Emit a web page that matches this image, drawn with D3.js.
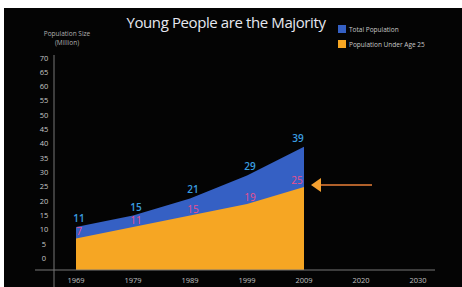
<!DOCTYPE html>
<html>
<head>
<meta charset="utf-8">
<script src="https://cdn.jsdelivr.net/npm/d3@7"></script>
<style>
  body { margin: 0; background: #fff; }
  svg { display: block; }
  text { font-family: "Open Sans", Lato, sans-serif; }
</style>
</head>
<body>
<svg width="462" height="287"></svg>
<script>
var years = ["1969", "1979", "1989", "1999", "2009", "2020", "2030"];
var dataYears = ["1969", "1979", "1989", "1999", "2009"];
var totalPop = [11, 15, 21, 29, 39];
var under25 = [7, 11, 15, 19, 25];
var yTicks = [0, 5, 10, 15, 20, 25, 30, 35, 40, 45, 50, 55, 60, 65, 70];

var svg = d3.select("svg");

// black panel, the picture has a thin white border top/left
svg.append("rect")
    .attr("x", 4).attr("y", 8)
    .attr("width", 458).attr("height", 279)
    .attr("fill", "#040404");

var x = d3.scalePoint()
    .domain(years)
    .range([76, 418]);

var y = d3.scaleLinear()
    .domain([-4, 70])
    .range([270, 58]);

var rows = dataYears.map(function(d, i) {
    return { year: d, total: totalPop[i], young: under25[i] };
});

var areaTotal = d3.area()
    .x(function(d) { return x(d.year); })
    .y0(y(-4))
    .y1(function(d) { return y(d.total); });

var areaYoung = d3.area()
    .x(function(d) { return x(d.year); })
    .y0(y(-4))
    .y1(function(d) { return y(d.young); });

svg.append("path")
    .datum(rows)
    .attr("d", areaTotal)
    .attr("fill", "#3560c4");

svg.append("path")
    .datum(rows)
    .attr("d", areaYoung)
    .attr("fill", "#f6a623");

// axes
svg.append("line")
    .attr("x1", 35).attr("x2", 435)
    .attr("y1", y(-4)).attr("y2", y(-4))
    .attr("stroke", "#777").attr("stroke-width", 1);

svg.append("line")
    .attr("x1", 54).attr("x2", 54)
    .attr("y1", 55).attr("y2", 287)
    .attr("stroke", "#777").attr("stroke-width", 1);

svg.append("g")
    .selectAll("text")
    .data(yTicks)
    .enter().append("text")
    .attr("x", 44)
    .attr("y", function(d) { return y(d) + 2.5; })
    .attr("text-anchor", "middle")
    .attr("font-size", 7.5)
    .attr("fill", "#c8c8c8")
    .text(function(d) { return d; });

svg.append("g")
    .selectAll("text")
    .data(years)
    .enter().append("text")
    .attr("x", function(d) { return x(d); })
    .attr("y", 283)
    .attr("text-anchor", "middle")
    .attr("font-size", 7.5)
    .attr("fill", "#c0c0c0")
    .text(function(d) { return d; });

// value labels
svg.append("g")
    .selectAll("text")
    .data(rows)
    .enter().append("text")
    .attr("x", function(d, i) { return x(d.year) + (i == rows.length - 1 ? -6 : 3); })
    .attr("y", function(d) { return y(d.total) - 5; })
    .attr("text-anchor", "middle")
    .attr("font-size", 10)
    .attr("font-weight", 600)
    .attr("fill", "#3a9ee0")
    .text(function(d) { return d.total; });

svg.append("g")
    .selectAll("text")
    .data(rows)
    .enter().append("text")
    .attr("x", function(d, i) { return x(d.year) + (i == rows.length - 1 ? -7 : 3); })
    .attr("y", function(d) { return y(d.young) - 3; })
    .attr("text-anchor", "middle")
    .attr("font-size", 10)
    .attr("fill", "#ec4f8e")
    .text(function(d) { return d.young; });

// arrow pointing at 2009
var arrowY = y(under25[4]) - 2;
svg.append("line")
    .attr("x1", 319).attr("x2", 372)
    .attr("y1", arrowY).attr("y2", arrowY)
    .attr("stroke", "#b0602a").attr("stroke-width", 2);
svg.append("path")
    .attr("d", "M311," + arrowY + "L321," + (arrowY - 7) + "L321," + (arrowY + 7) + "Z")
    .attr("fill", "#f4a030");

// title
svg.append("text")
    .attr("x", 226).attr("y", 28)
    .attr("text-anchor", "middle")
    .attr("font-size", 15)
    .attr("fill", "#e6e8f0")
    .style("letter-spacing", "-0.4px")
    .text("Young People are the Majority");

// y title
svg.append("text")
    .attr("x", 67).attr("y", 36)
    .attr("text-anchor", "middle")
    .attr("font-size", 6.5)
    .attr("fill", "#b0b0b0")
    .text("Population Size");
svg.append("text")
    .attr("x", 67).attr("y", 45)
    .attr("text-anchor", "middle")
    .attr("font-size", 6.5)
    .attr("fill", "#b0b0b0")
    .text("(Million)");

// legend
var legendNames = ["Total Population", "Population Under Age 25"];
var legendColors = ["#3560c4", "#f6a623"];
var legend = svg.append("g")
    .selectAll("g")
    .data(legendNames)
    .enter().append("g")
    .attr("transform", function(d, i) { return "translate(338," + (25 + i * 15) + ")"; });
legend.append("rect")
    .attr("width", 8).attr("height", 8)
    .attr("fill", function(d, i) { return legendColors[i]; });
legend.append("text")
    .attr("x", 11).attr("y", 6.5)
    .attr("font-size", 6.5)
    .attr("fill", "#c8c8c8")
    .text(function(d) { return d; });
</script>
</body>
</html>
